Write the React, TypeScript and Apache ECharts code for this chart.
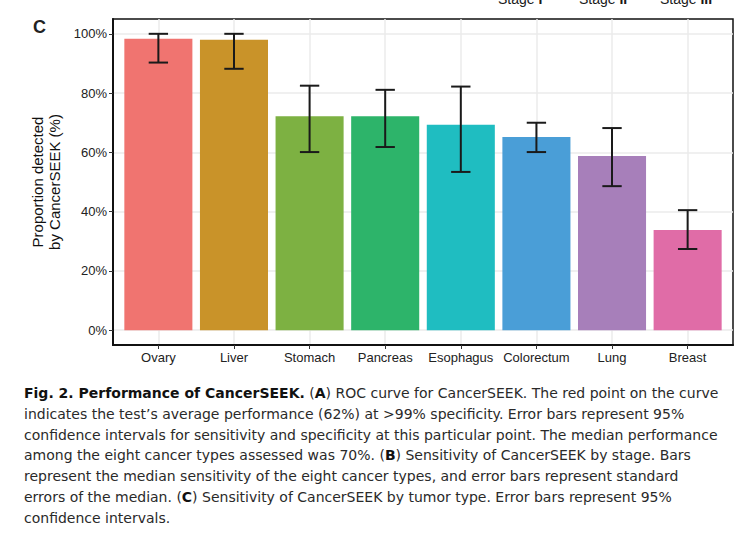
import React, { useEffect, useRef } from "react";
import * as echarts from "echarts";

const categories = ["Ovary", "Liver", "Stomach", "Pancreas", "Esophagus", "Colorectum", "Lung", "Breast"];
const detected = [98.3, 98.0, 72.2, 72.2, 69.3, 65.2, 58.8, 33.8];
const ciLow = [90.3, 88.2, 60.1, 61.8, 53.4, 60.1, 48.6, 27.4];
const ciHigh = [100, 100, 82.5, 81.1, 82.2, 70.0, 68.2, 40.5];
const barColors = ["#F07470", "#C99329", "#7DB142", "#2DB46A", "#1FBDC1", "#4A9ED7", "#A77FBA", "#E06CA7"];
const yTicks = [0, 20, 40, 60, 80, 100];
const xTicks = [0, 1, 2, 3, 4, 5, 6, 7];
const stageLegend = ["I", "II", "III"];
const captionLines = [
  "{b|Fig. 2. Performance of CancerSEEK.} ({b|A}) ROC curve for CancerSEEK. The red point on the curve",
  "indicates the test’s average performance (62%) at >99% specificity. Error bars represent 95%",
  "confidence intervals for sensitivity and specificity at this particular point. The median performance",
  "among the eight cancer types assessed was 70%. ({b|B}) Sensitivity of CancerSEEK by stage. Bars",
  "represent the median sensitivity of the eight cancer types, and error bars represent standard",
  "errors of the median. ({b|C}) Sensitivity of CancerSEEK by tumor type. Error bars represent 95%",
  "confidence intervals.",
];

const FONT = "Liberation Sans, Arial, sans-serif";
const CAPFONT = "DejaVu Sans, Liberation Sans, sans-serif";

export default function App() {
  const ref = useRef<HTMLDivElement>(null);
  useEffect(() => {
    document.body.style.margin = "0";
    const chart = echarts.init(ref.current!, null, { renderer: "svg" });
    const stageX = [498, 579, 660];
    const graphics: any[] = [];
    stageLegend.forEach((s, i) => {
      graphics.push({
        type: "text",
        x: stageX[i],
        y: 6,
        style: {
          text: "Stage {b|" + s + "}",
          font: "14px " + FONT,
          fill: "#1a1a1a",
          textVerticalAlign: "bottom",
          rich: { b: { fontWeight: "bold", fontSize: 14, fontFamily: FONT, fill: "#1a1a1a" } },
        },
      });
    });
    graphics.push({
      type: "text",
      x: 33,
      y: 27,
      style: { text: "C", font: "bold 18px " + FONT, fill: "#222", textVerticalAlign: "middle" },
    });
    captionLines.forEach((line, i) => {
      graphics.push({
        type: "text",
        x: 24,
        y: 392.7 + i * 20.9,
        style: {
          text: line,
          font: "14px " + CAPFONT,
          fill: "#2a2a2a",
          textVerticalAlign: "middle",
          rich: { b: { fontWeight: "bold", fontSize: 14, fontFamily: CAPFONT, fill: "#111" } },
        },
      });
    });

    chart.setOption({
      animation: false,
      backgroundColor: "#fff",
      textStyle: { fontFamily: FONT },
      grid: { left: 113, top: 19, width: 620, height: 326, show: true, borderColor: "#111", borderWidth: 1.5, backgroundColor: "transparent" },
      xAxis: {
        type: "value",
        min: -0.6,
        max: 7.6,
        axisLine: { show: true, onZero: false, lineStyle: { color: "#111", width: 2 } },
        axisTick: { show: true, length: 4, customValues: xTicks, lineStyle: { color: "#333", width: 1 } },
        axisLabel: {
          customValues: xTicks,
          formatter: (v: number) => categories[Math.round(v)] ?? "",
          color: "#222",
          fontSize: 13,
          margin: 6,
        },
        splitLine: { show: true, lineStyle: { color: "#EBEBEB", width: 1.5 } },
      },
      yAxis: {
        type: "value",
        min: -5,
        max: 105,
        name: "Proportion detected\nby CancerSEEK (%)",
        nameLocation: "middle",
        nameRotate: 90,
        nameGap: 46,
        nameTextStyle: { fontSize: 15, color: "#111", lineHeight: 17, fontFamily: FONT },
        axisLine: { show: true, onZero: false, lineStyle: { color: "#111", width: 2 } },
        axisTick: { show: true, length: 4, customValues: yTicks, lineStyle: { color: "#333", width: 1 } },
        axisLabel: {
          customValues: yTicks,
          formatter: (v: number) => v + "%",
          color: "#222",
          fontSize: 13,
          margin: 6,
        },
        splitLine: { show: true, lineStyle: { color: "#EBEBEB", width: 1.5 } },
      },
      graphic: graphics,
      series: [
        {
          type: "custom",
          data: categories.map((c, i) => [i, detected[i]]),
          encode: { x: 0, y: 1 },
          renderItem: (params: any, api: any) => {
            const x = api.value(0);
            const y = api.value(1);
            const p0 = api.coord([x - 0.45, y]);
            const p1 = api.coord([x + 0.45, 0]);
            return {
              type: "rect",
              shape: { x: p0[0], y: p0[1], width: p1[0] - p0[0], height: p1[1] - p0[1] },
              style: { fill: barColors[params.dataIndex] },
            };
          },
          z: 2,
        },
        {
          type: "custom",
          data: categories.map((c, i) => [i, ciLow[i], ciHigh[i]]),
          encode: { x: 0, y: [1, 2] },
          renderItem: (params: any, api: any) => {
            const x = api.value(0);
            const lo = api.value(1);
            const hi = api.value(2);
            const a = api.coord([x, lo]);
            const b = api.coord([x, hi]);
            const l = api.coord([x - 0.128, lo]);
            const r = api.coord([x + 0.128, lo]);
            const lh = api.coord([x - 0.128, hi]);
            const rh = api.coord([x + 0.128, hi]);
            const st = { stroke: "#1a1a1a", lineWidth: 2 };
            return {
              type: "group",
              children: [
                { type: "line", shape: { x1: a[0], y1: a[1], x2: b[0], y2: b[1] }, style: st },
                { type: "line", shape: { x1: l[0], y1: l[1], x2: r[0], y2: r[1] }, style: st },
                { type: "line", shape: { x1: lh[0], y1: lh[1], x2: rh[0], y2: rh[1] }, style: st },
              ],
            };
          },
          z: 3,
        },
      ],
    });
    return () => chart.dispose();
  }, []);
  return <div ref={ref} style={{ width: 750, height: 542 }} />;
}
